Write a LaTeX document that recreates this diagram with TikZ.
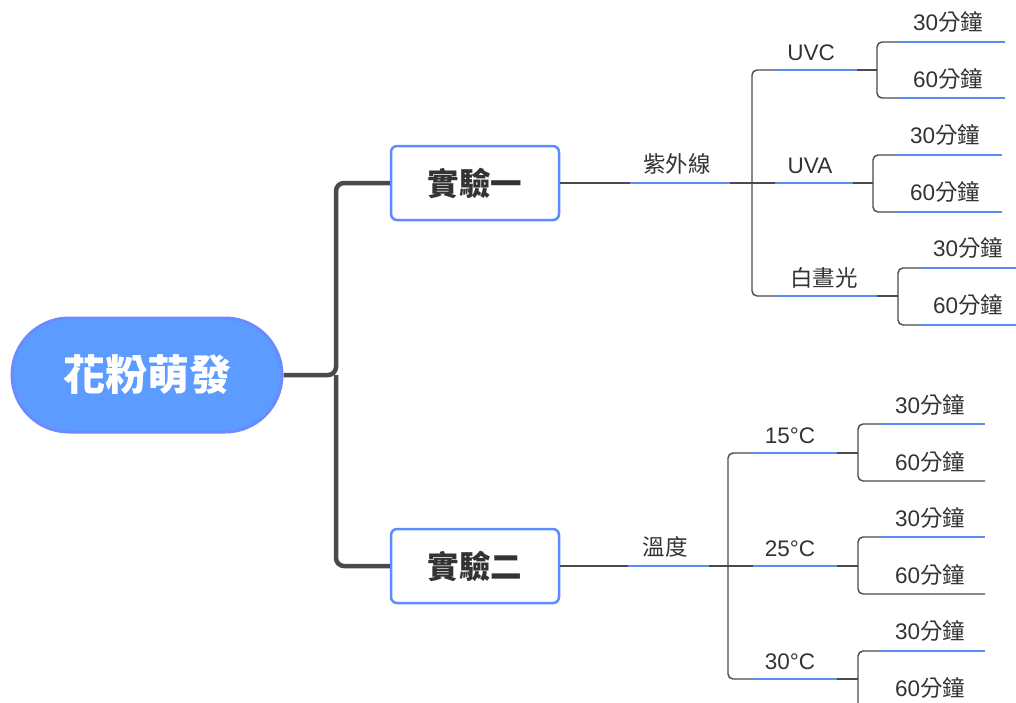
\documentclass[tikz,border=0pt]{standalone}
\usepackage{fontspec}
\setmainfont{Liberation Sans}
\newfontfamily\cjk{Noto Sans CJK TC}
\usetikzlibrary{calc}
\definecolor{lineg}{HTML}{4A4A4A}
\definecolor{lineb}{HTML}{5B8DF5}
\definecolor{rootfill}{HTML}{5C9BFF}
\definecolor{rootdraw}{HTML}{6B8AFF}
\definecolor{boxdraw}{HTML}{5C8CFF}
\definecolor{txt}{HTML}{333333}
\tikzset{
  dk/.style={draw=lineg, line width=1.4pt},
  bl/.style={draw=lineb, line width=1.4pt},
  mainline/.style={draw=lineg, line width=4.5pt, rounded corners=8pt},
  lbl/.style={text=txt, font=\fontsize{22.5}{26}\selectfont, inner sep=0pt, anchor=center},
  expbox/.style={draw=boxdraw, line width=2.5pt, fill=white, rounded corners=6pt, minimum width=168pt, minimum height=74pt, text=txt, font=\fontsize{31.5}{36}\selectfont\cjk\bfseries},
  rootbox/.style={draw=rootdraw, line width=3pt, fill=rootfill, rounded corners=57pt, minimum width=270pt, minimum height=114pt, text=white, font=\fontsize{42}{48}\selectfont\cjk\bfseries}
}
\begin{document}
\begin{tikzpicture}[x=1pt,y=-1pt]
\path[use as bounding box] (0,0) rectangle (1016,702);
\clip (0,0) rectangle (1016,702);
% main nodes
\node[rootbox] (root) at (147,375) {花粉萌發};
\node[expbox] (b1) at (475,183) {實驗一};
\node[expbox] (b2) at (475,566) {實驗二};
\coordinate (J0) at (336,375);
\draw[mainline] (root.east) -- (J0) |- (b1.west);
\draw[mainline] (J0) |- (b2.west);

% ===== UV branch =====
\coordinate (uvA) at (630,183); \coordinate (uvB) at (730,183); \coordinate (J1) at (752,183);
\node[lbl] (tuv) at (677,164) {\cjk 紫外線};
\draw[dk] (b1.east) -- (uvA); \draw[bl] (uvA) -- (uvB); \draw[dk] (uvB) -- (J1);
% UVC
\coordinate (cA) at (775,70); \coordinate (cB) at (857,70); \coordinate (cJ) at (877,70);
\node[lbl] (tc) at (811,53) {UVC};
\draw[dk, rounded corners=5pt] (J1) |- (cA); \draw[bl] (cA) -- (cB); \draw[dk] (cB) -- (cJ);
\coordinate (c3A) at (900,42); \coordinate (c3B) at (1005,42);
\coordinate (c6A) at (900,98); \coordinate (c6B) at (1005,98);
\node[lbl] (tc3) at (948,22) {30\cjk{分鐘}};
\node[lbl] (tc6) at (948,79) {60\cjk{分鐘}};
\draw[dk, rounded corners=5pt] (cJ) |- (c3A); \draw[bl] (c3A) -- (c3B);
\draw[dk, rounded corners=5pt] (cJ) |- (c6A); \draw[bl] (c6A) -- (c6B);
% UVA
\coordinate (aA) at (775,183); \coordinate (aB) at (853,183); \coordinate (aJ) at (873,183);
\node[lbl] (ta) at (810,166) {UVA};
\draw[dk] (J1) -- (aA); \draw[bl] (aA) -- (aB); \draw[dk] (aB) -- (aJ);
\coordinate (a3A) at (897,155); \coordinate (a3B) at (1002,155);
\coordinate (a6A) at (897,212); \coordinate (a6B) at (1002,212);
\node[lbl] (ta3) at (945,135) {30\cjk{分鐘}};
\node[lbl] (ta6) at (945,192) {60\cjk{分鐘}};
\draw[dk, rounded corners=5pt] (aJ) |- (a3A); \draw[bl] (a3A) -- (a3B);
\draw[dk, rounded corners=5pt] (aJ) |- (a6A); \draw[bl] (a6A) -- (a6B);
% daylight
\coordinate (wA) at (775,296); \coordinate (wB) at (877,296); \coordinate (wJ) at (898,296);
\node[lbl] (tw) at (824,278) {\cjk 白晝光};
\draw[dk, rounded corners=5pt] (J1) |- (wA); \draw[bl] (wA) -- (wB); \draw[dk] (wB) -- (wJ);
\coordinate (w3A) at (920,268); \coordinate (w3B) at (1016,268);
\coordinate (w6A) at (920,325); \coordinate (w6B) at (1016,325);
\node[lbl] (tw3) at (968,248) {30\cjk{分鐘}};
\node[lbl] (tw6) at (968,305) {60\cjk{分鐘}};
\draw[dk, rounded corners=5pt] (wJ) |- (w3A); \draw[bl] (w3A) -- (w3B);
\draw[dk, rounded corners=5pt] (wJ) |- (w6A); \draw[bl] (w6A) -- (w6B);

% ===== Temperature branch =====
\coordinate (tA) at (628,566); \coordinate (tB) at (709,566); \coordinate (J2) at (728,566);
\node[lbl] (tt) at (665,547) {\cjk 溫度};
\draw[dk] (b2.east) -- (tA); \draw[bl] (tA) -- (tB); \draw[dk] (tB) -- (J2);
% 15
\coordinate (fA) at (753,453); \coordinate (fB) at (837,453); \coordinate (fJ) at (858,453);
\node[lbl] (tf) at (790,436) {15°C};
\draw[dk, rounded corners=5pt] (J2) |- (fA); \draw[bl] (fA) -- (fB); \draw[dk] (fB) -- (fJ);
\coordinate (f3A) at (881,424); \coordinate (f3B) at (985,424);
\coordinate (f6B) at (985,481);
\node[lbl] (tf3) at (930,405) {30\cjk{分鐘}};
\node[lbl] (tf6) at (930,462) {60\cjk{分鐘}};
\draw[dk, rounded corners=5pt] (fJ) |- (f3A); \draw[bl] (f3A) -- (f3B);
\draw[dk, rounded corners=5pt] (fJ) |- (f6B);
% 25
\coordinate (gA) at (753,566); \coordinate (gB) at (837,566); \coordinate (gJ) at (858,566);
\node[lbl] (tg) at (790,549) {25°C};
\draw[dk] (J2) -- (gA); \draw[bl] (gA) -- (gB); \draw[dk] (gB) -- (gJ);
\coordinate (g3A) at (881,537); \coordinate (g3B) at (985,537);
\coordinate (g6B) at (985,594);
\node[lbl] (tg3) at (930,518) {30\cjk{分鐘}};
\node[lbl] (tg6) at (930,575) {60\cjk{分鐘}};
\draw[dk, rounded corners=5pt] (gJ) |- (g3A); \draw[bl] (g3A) -- (g3B);
\draw[dk, rounded corners=5pt] (gJ) |- (g6B);
% 30
\coordinate (hA) at (753,679); \coordinate (hB) at (837,679); \coordinate (hJ) at (858,679);
\node[lbl] (th) at (790,662) {30°C};
\draw[dk, rounded corners=5pt] (J2) |- (hA); \draw[bl] (hA) -- (hB); \draw[dk] (hB) -- (hJ);
\coordinate (h3A) at (881,651); \coordinate (h3B) at (985,651);
\coordinate (h6B) at (985,708);
\node[lbl] (th3) at (930,631) {30\cjk{分鐘}};
\node[lbl] (th6) at (930,688) {60\cjk{分鐘}};
\draw[dk, rounded corners=5pt] (hJ) |- (h3A); \draw[bl] (h3A) -- (h3B);
\draw[dk, rounded corners=5pt] (hJ) |- (h6B);
\end{tikzpicture}
\end{document}
